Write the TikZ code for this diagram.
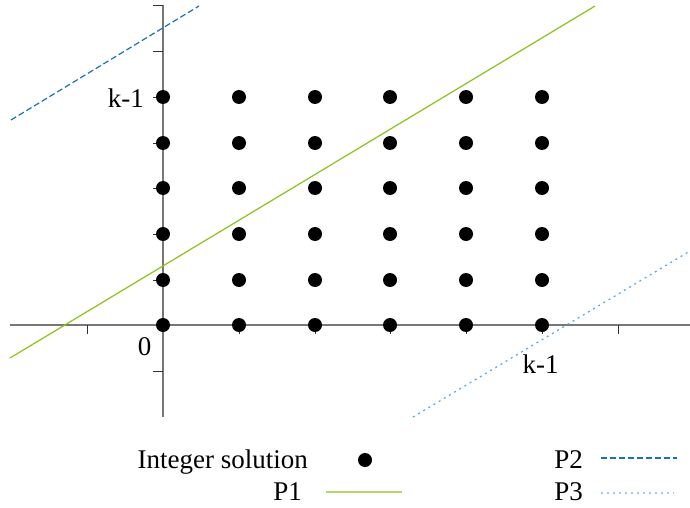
\documentclass[tikz,border=0pt]{standalone}
\usepackage{fontspec}
\setmainfont{Liberation Serif}
\begin{document}
\begin{tikzpicture}[x=1pt,y=-1pt,
  dotnode/.style={circle,fill=black,draw=none,minimum size=14pt,inner sep=0pt},
  axisline/.style={draw=axisgray,line width=1.6pt},
  tickline/.style={draw=black!80,line width=0.9pt},
  lbl/.style={inner sep=0pt,font=\fontsize{27}{32}\selectfont},
  pone/.style={draw=pgreen,line width=1.2pt},
  ptwo/.style={draw=pdblue,line width=1.2pt,dash pattern=on 6pt off 3pt},
  pthree/.style={draw=plblue,line width=1.2pt,dash pattern=on 2pt off 4pt}]
\definecolor{axisgray}{HTML}{777777}
\definecolor{pgreen}{HTML}{8CC21A}
\definecolor{pdblue}{HTML}{1A6FBF}
\definecolor{plblue}{HTML}{5AA5E6}
\useasboundingbox (0,0) rectangle (690,508);
% axes
\coordinate (xl) at (10,325);
\coordinate (xr) at (690,325);
\coordinate (yt) at (163,5);
\coordinate (yb) at (163,417);
\draw[axisline] (xl) -- (xr);
\draw[axisline] (yb) -- (yt);
% ticks
\foreach \ty in {5,51,97,143,188,234,280,371}
  \draw[tickline] (153,\ty) -- (163,\ty);
\foreach \tx in {87,239,315,390,466,542,618}
  \draw[tickline] (\tx,325) -- (\tx,334);
% lines
\coordinate (p1a) at (10,358);
\coordinate (p1b) at (595,6);
\coordinate (p2a) at (11,120);
\coordinate (p2b) at (199,6);
\coordinate (p3a) at (413,417);
\coordinate (p3b) at (690,251);
\draw[pone] (p1a) -- (p1b);
\draw[ptwo] (p2a) -- (p2b);
\draw[pthree] (p3a) -- (p3b);
% dots
\foreach \i/\xx in {0/163,1/239,2/315,3/390,4/466,5/542}
  \foreach \j/\yy in {0/325,1/280,2/234,3/188,4/143,5/97}
    \node[dotnode] (d\i\j) at (\xx,\yy) {};
% labels
\node[lbl,anchor=base east] (ky) at (144,107) {k-1};
\node[lbl,anchor=base] (zero) at (144.5,355) {0};
\node[lbl,anchor=base] (kx) at (540.5,373) {k-1};
% legend
\node[lbl,anchor=base east] (lint) at (308,468) {Integer solution};
\node[dotnode] (ldot) at (365,460) {};
\node[lbl,anchor=base east] (lp1) at (302,500) {P1};
\node[lbl,anchor=base east] (lp2) at (583,468) {P2};
\node[lbl,anchor=base east] (lp3) at (583,500) {P3};
\coordinate (l1a) at (326,492);
\coordinate (l1b) at (402,492);
\coordinate (l2a) at (601,458);
\coordinate (l2b) at (677,458);
\coordinate (l3a) at (601,493);
\coordinate (l3b) at (674,493);
\draw[pone,draw opacity=0.65] (l1a) -- (l1b);
\draw[ptwo] (l2a) -- (l2b);
\draw[pthree,draw opacity=0.55] (l3a) -- (l3b);
\end{tikzpicture}
\end{document}
